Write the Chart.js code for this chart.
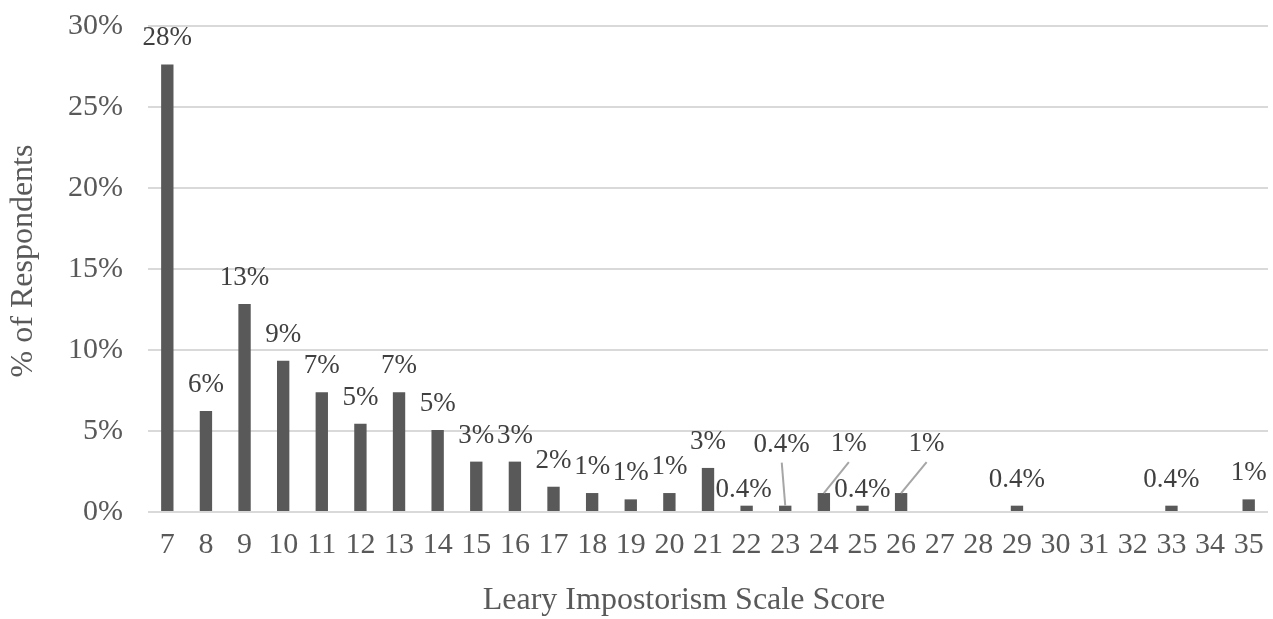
<!DOCTYPE html>
<html>
<head>
<meta charset="utf-8">
<script src="https://cdn.jsdelivr.net/npm/chart.js@4"></script>
<style>
  html, body { margin: 0; padding: 0; background: #fff; }
  #wrap { width: 1273px; height: 619px; position: relative; }
</style>
</head>
<body>
<div id="wrap"><canvas id="myChart"></canvas></div>
<script>
// scores on the x axis
var scores = ['7', '8', '9', '10', '11', '12', '13', '14', '15', '16', '17', '18', '19', '20', '21',
              '22', '23', '24', '25', '26', '27', '28', '29', '30', '31', '32', '33', '34', '35'];
// % of respondents per score
var percents = [27.63, 6.23, 12.84, 9.34, 7.39, 5.45, 7.39, 5.06, 3.11, 3.11, 1.56, 1.17, 0.78, 1.17, 2.72,
                0.39, 0.39, 1.17, 0.39, 1.17, 0, 0, 0.39, 0, 0, 0, 0.39, 0, 0.78];
// text written over each bar
var barLabels = ['28%', '6%', '13%', '9%', '7%', '5%', '7%', '5%', '3%', '3%', '2%', '1%', '1%', '1%', '3%',
                 '0.4%', '0.4%', '1%', '0.4%', '1%', '', '', '0.4%', '', '', '', '0.4%', '', '1%'];
// y axis ticks
var yTicks = [0, 5, 10, 15, 20, 25, 30];

var xTitle = 'Leary Impostorism Scale Score';
var yTitle = '% of Respondents';

var serif = "'Liberation Serif', 'Times New Roman', serif";

// labels that were moved off their bar (some with a leader line back to it)
var moved = {
  '22': { dx: -3, dy: -16 },
  '23': { dx: -3.5, dy: -61, leader: true },
  '24': { dx: 25, dy: -49, leader: true },
  '25': { dx: 0, dy: -16 },
  '26': { dx: 25.5, dy: -49, leader: true }
};

var labelPlugin = {
  id: 'barLabels',
  afterDatasetsDraw: function (chart) {
    var c = chart.ctx;
    var bars = chart.getDatasetMeta(0).data;
    c.save();
    c.font = '27px ' + serif;
    c.textAlign = 'center';
    c.textBaseline = 'middle';
    bars.forEach(function (bar, i) {
      var txt = barLabels[i];
      if (!txt) return;
      var m = moved[scores[i]] || { dx: 0, dy: -26 };
      var lx = bar.x + m.dx, ly = bar.y + m.dy;
      if (m.leader) {
        c.strokeStyle = '#a6a6a6';
        c.lineWidth = 2;
        c.beginPath();
        c.moveTo(lx, ly + 18);
        c.lineTo(bar.x, bar.y);
        c.stroke();
      }
      c.fillStyle = '#404040';
      c.fillText(txt, lx, ly);
    });
    c.restore();
  }
};

// axis titles sit a bit off the plot centre in the original, so draw them by hand
var titlePlugin = {
  id: 'axisTitles',
  afterDraw: function (chart) {
    var c = chart.ctx;
    c.save();
    c.font = '32px ' + serif;
    c.fillStyle = '#595959';
    c.textAlign = 'center';
    c.textBaseline = 'middle';
    c.fillText(xTitle, 684, 601);
    c.translate(24, 261);
    c.rotate(-Math.PI / 2);
    c.fillText(yTitle, 0, 0);
    c.restore();
  }
};

var ctx = document.getElementById('myChart').getContext('2d');

var myChart = new Chart(ctx, {
  type: 'bar',
  data: {
    labels: scores,
    datasets: [{
      data: percents,
      backgroundColor: '#595959',
      barPercentage: 0.32,
      categoryPercentage: 1
    }]
  },
  plugins: [labelPlugin, titlePlugin],
  options: {
    responsive: true,
    maintainAspectRatio: false,
    animation: false,
    layout: { padding: { top: 26, right: 5, left: 0, bottom: 0 } },
    plugins: {
      legend: { display: false },
      tooltip: { enabled: false }
    },
    scales: {
      x: {
        // invisible tick marks give the label gap without widening the plot padding
        grid: { display: true, drawOnChartArea: false, drawTicks: true, tickLength: 15, tickColor: 'rgba(0,0,0,0)' },
        border: { display: false },
        ticks: {
          color: '#595959',
          font: { family: serif, size: 30 },
          padding: 0,
          maxRotation: 0,
          autoSkip: false
        },
        afterFit: function (scale) { scale.height = 107; }
      },
      y: {
        min: 0,
        max: 30,
        afterBuildTicks: function (scale) {
          scale.ticks = yTicks.map(function (v) { return { value: v }; });
        },
        grid: { color: '#d9d9d9', lineWidth: 2, drawTicks: true, tickLength: 25, tickColor: 'rgba(0,0,0,0)' },
        border: { display: false },
        ticks: {
          color: '#595959',
          font: { family: serif, size: 30 },
          padding: 0,
          callback: function (v) { return v + '%'; }
        },
        afterFit: function (scale) { scale.width = 148; }
      }
    }
  }
});
</script>
</body>
</html>
